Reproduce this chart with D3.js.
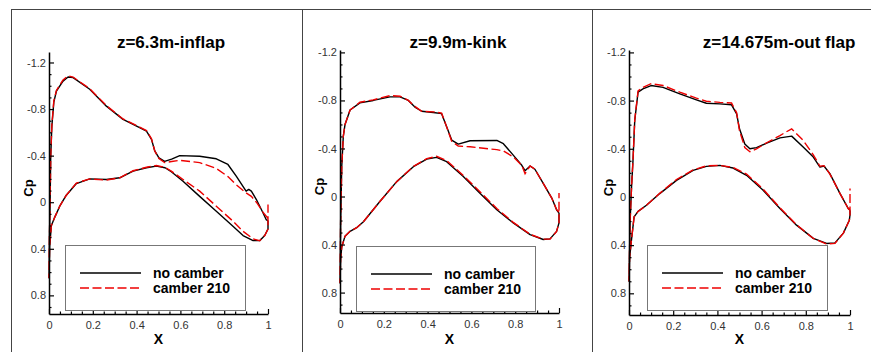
<!DOCTYPE html>
<html>
<head>
<meta charset="utf-8">
<script src="https://cdn.jsdelivr.net/npm/d3@7"></script>
<style>
  body { margin: 0; background: #fff; }
  svg { display: block; font-family: "Liberation Sans", Arial, sans-serif; }
</style>
</head>
<body>
<div id="chart"></div>
<script>
// section titles and legend
var titles = ["z=6.3m-inflap", "z=9.9m-kink", "z=14.675m-out flap"];
var seriesNames = ["no camber", "camber 210"];
var xTicks = [0, 0.2, 0.4, 0.6, 0.8, 1];
var yTicks = [-1.2, -0.8, -0.4, 0, 0.4, 0.8];
var yDomains = [[-1.29, 0.96], [-1.22, 0.97], [-1.22, 0.98]];

// z=6.3m, upper surface (LE -> TE)
var xUp1 = [0, 0.002, 0.005, 0.008, 0.013, 0.022, 0.034, 0.064, 0.087, 0.11, 0.186, 0.262, 0.338, 0.414, 0.445, 0.468, 0.483, 0.502, 0.528, 0.56, 0.597, 0.688, 0.764, 0.817, 0.855, 0.90, 0.912, 0.924, 0.947, 0.977, 0.992, 1.0];
var cpUpBase1 = [0.65, 0.3, 0.0, -0.4, -0.65, -0.86, -0.955, -1.04, -1.075, -1.07, -0.97, -0.825, -0.711, -0.64, -0.61, -0.54, -0.44, -0.38, -0.35, -0.37, -0.40, -0.395, -0.373, -0.324, -0.224, -0.095, -0.11, -0.095, -0.023, 0.09, 0.15, 0.16];
var cpUpCamb1 = [0.65, 0.3, 0.0, -0.4, -0.66, -0.87, -0.96, -1.05, -1.085, -1.075, -0.975, -0.83, -0.715, -0.645, -0.615, -0.545, -0.44, -0.375, -0.34, -0.35, -0.36, -0.34, -0.29, -0.22, -0.15, -0.08, -0.065, -0.05, 0.0, 0.085, 0.12, 0.14];
// z=6.3m, lower surface (LE -> TE)
var xLo1 = [0, 0.003, 0.011, 0.026, 0.049, 0.079, 0.125, 0.186, 0.262, 0.323, 0.384, 0.445, 0.49, 0.53, 0.56, 0.612, 0.688, 0.764, 0.84, 0.886, 0.932, 0.962, 0.985, 1.0, 1.0];
var cpLoBase1 = [0.65, 0.38, 0.2, 0.13, 0.034, -0.06, -0.16, -0.2, -0.195, -0.21, -0.267, -0.296, -0.31, -0.296, -0.26, -0.18, -0.05, 0.077, 0.206, 0.286, 0.33, 0.33, 0.286, 0.23, 0.16];
var cpLoCamb1 = [0.65, 0.38, 0.2, 0.13, 0.034, -0.06, -0.165, -0.2, -0.19, -0.21, -0.27, -0.30, -0.315, -0.30, -0.265, -0.195, -0.095, 0.034, 0.163, 0.25, 0.315, 0.33, 0.286, 0.23, 0.02];

// z=9.9m
var xUp2 = [0, 0.003, 0.008, 0.015, 0.023, 0.046, 0.091, 0.152, 0.228, 0.274, 0.312, 0.342, 0.373, 0.426, 0.464, 0.487, 0.51, 0.54, 0.594, 0.716, 0.746, 0.791, 0.83, 0.845, 0.868, 0.89, 0.928, 0.967, 0.989, 1.0];
var cpUpBase2 = [0.72, 0.2, -0.25, -0.5, -0.6, -0.72, -0.78, -0.80, -0.83, -0.83, -0.80, -0.745, -0.71, -0.70, -0.69, -0.58, -0.47, -0.436, -0.464, -0.467, -0.44, -0.345, -0.26, -0.215, -0.254, -0.227, -0.11, 0.013, 0.11, 0.138];
var cpUpCamb2 = [0.72, 0.2, -0.25, -0.5, -0.6, -0.72, -0.785, -0.805, -0.84, -0.835, -0.80, -0.75, -0.71, -0.705, -0.695, -0.58, -0.46, -0.42, -0.414, -0.39, -0.38, -0.33, -0.26, -0.19, -0.254, -0.227, -0.11, 0.013, 0.11, 0.13];
var xLo2 = [0, 0.003, 0.008, 0.023, 0.046, 0.076, 0.107, 0.183, 0.259, 0.335, 0.396, 0.441, 0.487, 0.563, 0.639, 0.716, 0.791, 0.868, 0.928, 0.959, 0.989, 1.0, 1.0];
var cpLoBase2 = [0.72, 0.52, 0.42, 0.33, 0.29, 0.26, 0.21, 0.04, -0.124, -0.248, -0.312, -0.326, -0.29, -0.166, -0.028, 0.11, 0.22, 0.317, 0.358, 0.353, 0.29, 0.22, 0.138];
var cpLoCamb2 = [0.72, 0.52, 0.42, 0.33, 0.29, 0.26, 0.21, 0.04, -0.124, -0.25, -0.315, -0.335, -0.30, -0.175, -0.04, 0.10, 0.215, 0.315, 0.355, 0.355, 0.29, 0.22, -0.03];

// z=14.675m
var xUp3 = [0, 0.005, 0.012, 0.018, 0.026, 0.041, 0.063, 0.10, 0.154, 0.23, 0.305, 0.35, 0.411, 0.464, 0.487, 0.50, 0.524, 0.547, 0.577, 0.623, 0.683, 0.736, 0.788, 0.834, 0.864, 0.882, 0.909, 0.955, 0.992, 1.0];
var cpUpBase3 = [0.7, 0.2, -0.1, -0.3, -0.635, -0.87, -0.897, -0.925, -0.91, -0.856, -0.806, -0.778, -0.773, -0.765, -0.69, -0.566, -0.44, -0.40, -0.41, -0.447, -0.49, -0.505, -0.414, -0.331, -0.248, -0.257, -0.194, -0.028, 0.096, 0.11];
var cpUpCamb3 = [0.7, 0.2, -0.1, -0.3, -0.64, -0.88, -0.91, -0.94, -0.925, -0.87, -0.82, -0.795, -0.785, -0.78, -0.70, -0.55, -0.41, -0.375, -0.40, -0.45, -0.51, -0.566, -0.47, -0.35, -0.255, -0.26, -0.19, -0.028, 0.096, 0.11];
var xLo3 = [0, 0.003, 0.011, 0.023, 0.041, 0.079, 0.139, 0.215, 0.29, 0.35, 0.411, 0.471, 0.532, 0.607, 0.683, 0.758, 0.834, 0.894, 0.932, 0.97, 0.997, 1.0, 1.0];
var cpLoBase3 = [0.7, 0.5, 0.36, 0.165, 0.12, 0.069, -0.028, -0.138, -0.221, -0.254, -0.262, -0.24, -0.18, -0.055, 0.096, 0.234, 0.344, 0.386, 0.381, 0.30, 0.193, 0.15, 0.11];
var cpLoCamb3 = [0.7, 0.5, 0.36, 0.165, 0.12, 0.069, -0.03, -0.145, -0.225, -0.258, -0.262, -0.245, -0.19, -0.065, 0.09, 0.23, 0.345, 0.39, 0.385, 0.30, 0.193, 0.15, -0.07];

var sections = [
    { up: xUp1, lo: xLo1, base: [cpUpBase1, cpLoBase1], camb: [cpUpCamb1, cpLoCamb1] },
    { up: xUp2, lo: xLo2, base: [cpUpBase2, cpLoBase2], camb: [cpUpCamb2, cpLoCamb2] },
    { up: xUp3, lo: xLo3, base: [cpUpBase3, cpLoBase3], camb: [cpUpCamb3, cpLoCamb3] }
];

// layout of each panel (pixels)
var panels = [
    { x0: 49, x1: 268, y0: 52, y1: 314, titleX: 171, legX: 65, legY: 245, legW: 180 },
    { x0: 340, x1: 559, y0: 50, y1: 313, titleX: 458, legX: 356, legY: 246, legW: 179 },
    { x0: 629, x1: 850, y0: 50, y1: 315, titleX: 779, legX: 647, legY: 245, legW: 180 }
];

var width = 871, height = 352;
var svg = d3.select("#chart").append("svg")
    .attr("width", width)
    .attr("height", height);

// frame lines
svg.append("line").attr("x1", 11).attr("x2", width).attr("y1", 9.5).attr("y2", 9.5)
    .attr("stroke", "#444").attr("stroke-width", 1);
[11.5, 302.5, 592.5].forEach(function (x) {
    svg.append("line").attr("x1", x).attr("x2", x).attr("y1", 9).attr("y2", height)
        .attr("stroke", "#444").attr("stroke-width", 1);
});

function loop(xs, cps) {
    // upper surface from TE to LE, then lower surface from LE to TE
    var pts = [];
    for (var i = xs.up.length - 1; i >= 0; i--) pts.push([xs.up[i], cps[0][i]]);
    for (var j = 0; j < xs.lo.length; j++) pts.push([xs.lo[j], cps[1][j]]);
    return pts;
}

function range(a, b, step) {
    var out = [];
    var n = Math.round((b - a) / step);
    for (var i = 0; i <= n; i++) out.push(+(a + i * step).toFixed(3));
    return out;
}

panels.forEach(function (p, k) {
    var x = d3.scaleLinear().domain([0, 1]).range([p.x0, p.x1]);
    var y = d3.scaleLinear().domain(yDomains[k]).range([p.y0, p.y1]);
    var g = svg.append("g");

    var line = d3.line()
        .x(function (d) { return x(d[0]); })
        .y(function (d) { return y(d[1]); });

    var sec = sections[k];
    g.append("path")
        .attr("d", line(loop(sec, sec.base)))
        .attr("fill", "none")
        .attr("stroke", "#000")
        .attr("stroke-width", 1.4)
        .attr("stroke-linejoin", "round");
    g.append("path")
        .attr("d", line(loop(sec, sec.camb)))
        .attr("fill", "none")
        .attr("stroke", "#ee0000")
        .attr("stroke-width", 1.4)
        .attr("stroke-dasharray", "9,3.5");

    // minor ticks
    var yMinor = range(-1.2, 0.9, 0.1).filter(function (v) { return yTicks.indexOf(v) < 0; });
    var xMinor = range(0, 1, 0.05).filter(function (v) { return xTicks.indexOf(v) < 0; });

    var yAxisMinor = g.append("g").attr("transform", "translate(" + p.x0 + ",0)")
        .call(d3.axisLeft(y).tickValues(yMinor).tickSize(-2.5).tickFormat(""));
    yAxisMinor.select(".domain").remove();
    var xAxisMinor = g.append("g").attr("transform", "translate(0," + p.y1 + ")")
        .call(d3.axisBottom(x).tickValues(xMinor).tickSize(-2.5).tickFormat(""));
    xAxisMinor.select(".domain").remove();

    var yAxis = g.append("g").attr("transform", "translate(" + p.x0 + ",0)")
        .call(d3.axisLeft(y).tickValues(yTicks).tickSize(-5).tickSizeOuter(0).tickPadding(3)
            .tickFormat(function (d) { return String(d); }));
    var xAxis = g.append("g").attr("transform", "translate(0," + p.y1 + ")")
        .call(d3.axisBottom(x).tickValues(xTicks).tickSize(-5).tickSizeOuter(0).tickPadding(7)
            .tickFormat(function (d) { return String(d); }));

    [yAxis, xAxis, yAxisMinor, xAxisMinor].forEach(function (a) {
        a.selectAll("line").attr("stroke", "#000").attr("stroke-width", 1.2);
        a.select(".domain").attr("stroke", "#000").attr("stroke-width", 1.5);
        a.selectAll("text").attr("fill", "#333").attr("font-size", 11)
            .attr("font-family", "'Liberation Sans', Arial, sans-serif");
    });

    // axis titles
    g.append("text")
        .attr("x", (p.x0 + p.x1) / 2)
        .attr("y", 344)
        .attr("text-anchor", "middle")
        .attr("font-size", 14)
        .attr("font-weight", "bold")
        .text("X");
    g.append("text")
        .attr("transform", "translate(" + (p.x0 - 16) + "," + ((p.y0 + p.y1) / 2 + 5) + ") rotate(-90)")
        .attr("text-anchor", "middle")
        .attr("font-size", 13)
        .attr("font-weight", "bold")
        .text("Cp");

    g.append("text")
        .attr("x", p.titleX)
        .attr("y", 48)
        .attr("text-anchor", "middle")
        .attr("font-size", 17)
        .attr("font-weight", "bold")
        .text(titles[k]);

    // legend
    var leg = g.append("g").attr("transform", "translate(" + p.legX + "," + p.legY + ")");
    leg.append("rect")
        .attr("x", 0.5).attr("y", 0.5)
        .attr("width", p.legW).attr("height", 65)
        .attr("fill", "#fff")
        .attr("stroke", "#777")
        .attr("stroke-width", 1);
    seriesNames.forEach(function (name, i) {
        var ly = 28 + i * 15;
        leg.append("line")
            .attr("x1", 15).attr("x2", 76)
            .attr("y1", ly).attr("y2", ly)
            .attr("stroke", i === 0 ? "#000" : "#ee0000")
            .attr("stroke-width", 1.4)
            .attr("stroke-dasharray", i === 0 ? null : "9,3.5");
        leg.append("text")
            .attr("x", 88)
            .attr("y", ly + 5)
            .attr("font-size", 14)
            .attr("font-weight", "bold")
            .text(name);
    });
});
</script>
</body>
</html>
